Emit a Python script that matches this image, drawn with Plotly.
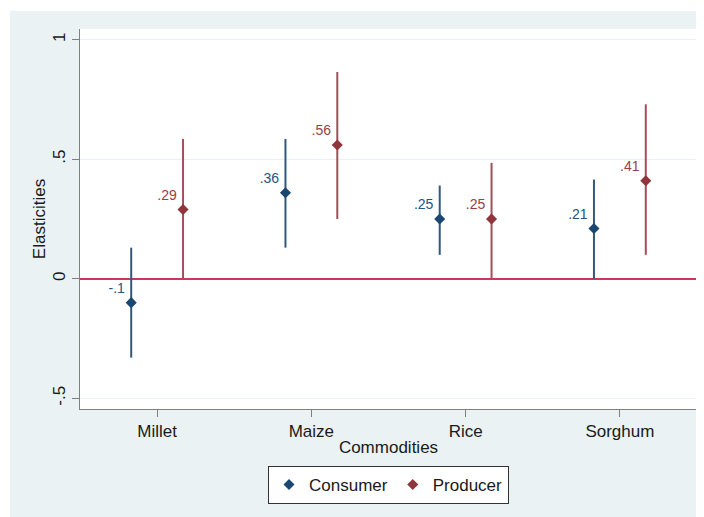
import plotly.graph_objects as go

# ---- data ----
commodities = ["Millet", "Maize", "Rice", "Sorghum"]
consumer = [-0.10, 0.36, 0.25, 0.21]
consumer_lo = [-0.33, 0.13, 0.10, 0.00]
consumer_hi = [0.13, 0.585, 0.39, 0.415]
producer = [0.29, 0.56, 0.25, 0.41]
producer_lo = [0.00, 0.25, 0.00, 0.10]
producer_hi = [0.585, 0.865, 0.485, 0.73]
ytick_vals = [-0.5, 0, 0.5, 1]
ytick_text = ["-.5", "0", ".5", "1"]


def stata_fmt(v):
    s = f"{v:.2f}".rstrip("0").rstrip(".")
    s = s.replace("0.", ".")
    return s


NAVY = "#1a476f"
NAVY_BAR = "#31587f"
NAVY_LBL = "#24537f"
MAROON = "#90353b"
MAROON_BAR = "#a1505a"
MAROON_LBL = "#9a3e45"
BG = "#EAF2F3"
FONT = "Liberation Sans, Arial, sans-serif"

pos = list(range(1, len(commodities) + 1))
off = 0.168

fig = go.Figure()


def add_series(name, vals, lo, hi, xoff, mcol, bcol, lcol):
    xs = [p + xoff for p in pos]
    fig.add_trace(go.Scatter(
        x=xs, y=vals, name=name, mode="markers+text",
        text=[stata_fmt(v) for v in vals], textposition="top left",
        textfont=dict(size=14, color=lcol, family=FONT),
        marker=dict(symbol="diamond", size=8.5, color=mcol),
        error_y=dict(type="data", symmetric=False,
                     array=[h - v for h, v in zip(hi, vals)],
                     arrayminus=[v - l for v, l in zip(vals, lo)],
                     color=bcol, thickness=2, width=0),
        cliponaxis=False,
    ))


add_series("Consumer", consumer, consumer_lo, consumer_hi, -off, NAVY, NAVY_BAR, NAVY_LBL)
add_series("Producer", producer, producer_lo, producer_hi, off, MAROON, MAROON_BAR, MAROON_LBL)

# page body has an 8px margin; the figure is sized to fill the rest of the window
PAGE = 8
W, H = 704 - PAGE, 517 - PAGE
ml, mr, mt, mb = 80 - PAGE, 7, 29 - PAGE, 108
pw, ph = W - ml - mr, H - mt - mb

bg_left, bg_top = 10 - PAGE, 11 - PAGE

shapes = [
    dict(type="rect", xref="paper", yref="paper", layer="below",
         x0=(bg_left - ml) / pw, x1=(W + 5 - ml) / pw,
         y0=(H - mb - (H + 5)) / ph, y1=(H - mb - bg_top) / ph,
         fillcolor=BG, line=dict(width=0)),
    dict(type="rect", xref="paper", yref="paper", layer="below",
         x0=0, x1=1, y0=0, y1=1, fillcolor="white", line=dict(width=0)),
]

fig.update_layout(
    width=W, height=H,
    margin=dict(l=ml, r=mr, t=mt, b=mb, pad=0),
    paper_bgcolor="white", plot_bgcolor="white",
    font=dict(family=FONT, size=17, color="#1a1a1a"),
    shapes=shapes,
    showlegend=True,
    legend=dict(orientation="h", x=0.5, xanchor="center", y=-0.15, yanchor="top",
                bgcolor="white", bordercolor="#333333", borderwidth=1,
                font=dict(size=17), itemwidth=30, tracegroupgap=0),
    xaxis=dict(range=[0.5, 4.5], tickmode="array", tickvals=pos, ticktext=commodities,
               showgrid=False, zeroline=False, showline=True, linecolor="#808080",
               linewidth=1, ticks="outside", ticklen=7, tickcolor="#808080",
               tickfont=dict(size=17),
               title=dict(text="Commodities", standoff=0, font=dict(size=17))),
    yaxis=dict(range=[-0.545, 1.045], tickmode="array", tickvals=ytick_vals,
               ticktext=ytick_text, tickangle=-90, showgrid=True, gridcolor=BG,
               gridwidth=1, zeroline=True, zerolinecolor="#d0355a", zerolinewidth=2,
               showline=True, linecolor="#808080", linewidth=1, ticks="outside",
               ticklen=7, tickcolor="#808080", tickfont=dict(size=17),
               title=dict(text="Elasticities", standoff=0, font=dict(size=17))),
)

fig.write_html("out.html")
